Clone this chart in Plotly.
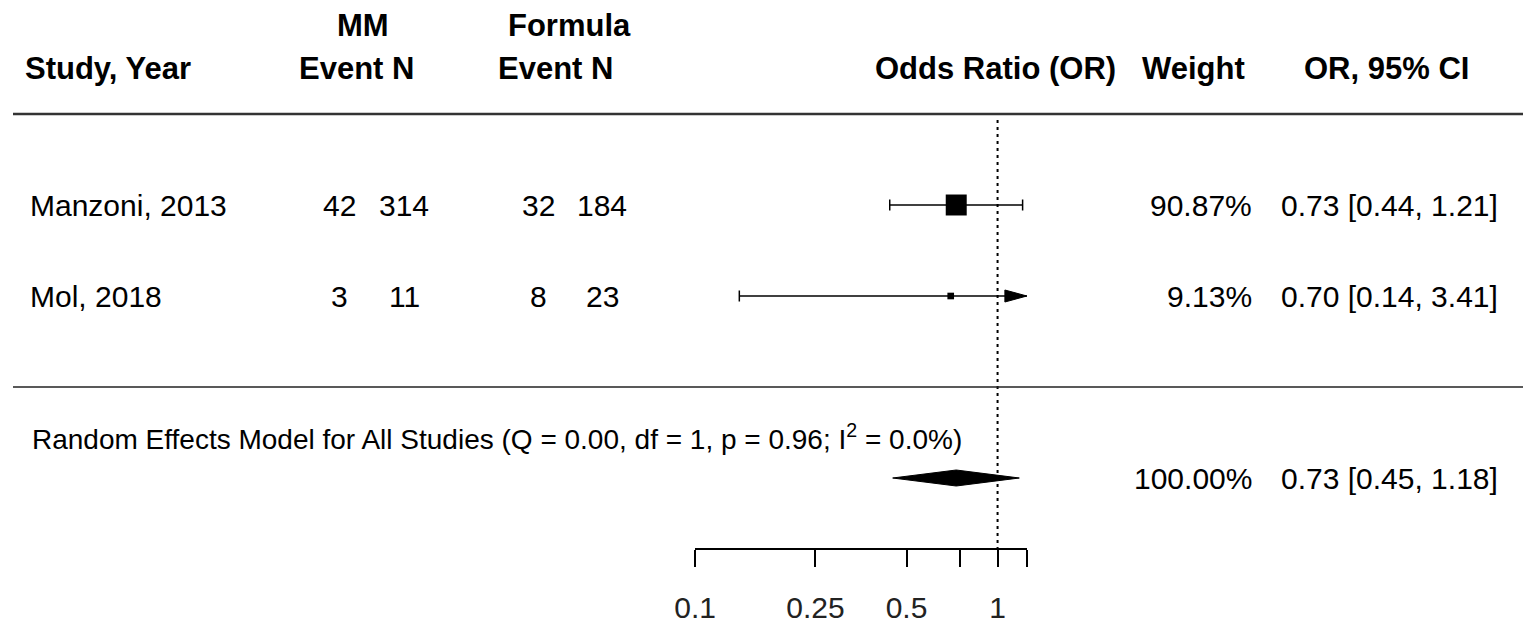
import math
import plotly.graph_objects as go

# ---------------- data ----------------
studies = ["Manzoni, 2013", "Mol, 2018"]
mm_events = [42, 3]
mm_n = [314, 11]
formula_events = [32, 8]
formula_n = [184, 23]
or_est = [0.73, 0.70]
ci_low = [0.44, 0.14]
ci_high = [1.21, 3.41]
weights = [90.87, 9.13]

pooled_label = "Random Effects Model for All Studies (Q = 0.00, df = 1, p = 0.96; I<sup>2</sup> = 0.0%)"
pooled_or = 0.73
pooled_low = 0.45
pooled_high = 1.18
pooled_weight = 100.00

tick_vals = [0.1, 0.25, 0.5, 1]
tick_text = ["0.1", "0.25", "0.5", "1"]
unlabeled_ticks = [0.75, 1.25]
axis_limits = [0.1, 1.25]
ref_value = 1

# ---------------- layout constants ----------------
W, H = 1536, 630
OFF = 8                 # page (body) offset of the figure in the browser window
FONT = "Liberation Sans, Arial, sans-serif"
PX_ROW = 91.0           # pixels per row
ROW0_PX = 387.0         # screen pixel y of row 0
AX_L, AX_R = 695, 1027  # screen pixel extent of x axis
AX_Y = 548              # screen pixel y of x axis line

def row_of(py):
    return (ROW0_PX - py) / PX_ROW

def px(x):
    return (x - OFF) / W

study_rows = [2, 1]
pooled_row = -1
x_min, x_max = axis_limits
px_per_dec = (AX_R - AX_L) / (math.log10(x_max) - math.log10(x_min))

fig = go.Figure()

# CI lines with caps / arrows
cap = 5.5 / PX_ROW
for r, lo, hi in zip(study_rows, ci_low, ci_high):
    hi_c = min(hi, x_max)
    lo_c = max(lo, x_min)
    fig.add_trace(go.Scatter(x=[lo_c, hi_c], y=[r, r], mode="lines",
                             line=dict(color="black", width=1.5), hoverinfo="skip"))
    if lo >= x_min:
        fig.add_trace(go.Scatter(x=[lo, lo], y=[r - cap, r + cap], mode="lines",
                                 line=dict(color="black", width=1.5), hoverinfo="skip"))
    if hi <= x_max:
        fig.add_trace(go.Scatter(x=[hi, hi], y=[r - cap, r + cap], mode="lines",
                                 line=dict(color="black", width=1.5), hoverinfo="skip"))
    else:
        base = 10 ** (math.log10(x_max) - 22 / px_per_dec)
        ah = 6 / PX_ROW
        fig.add_trace(go.Scatter(x=[base, x_max, base, base], y=[r - ah, r, r + ah, r - ah],
                                 mode="lines", fill="toself", fillcolor="black",
                                 line=dict(color="black", width=1), hoverinfo="skip"))

# squares sized by weight
fig.add_trace(go.Scatter(x=or_est, y=study_rows, mode="markers",
                         marker=dict(symbol="square", color="black", opacity=1,
                                     size=[2.2 * math.sqrt(w) for w in weights],
                                     line=dict(width=0)),
                         hoverinfo="skip"))

# pooled diamond
dh = 8 / PX_ROW
fig.add_trace(go.Scatter(x=[pooled_low, pooled_or, pooled_high, pooled_or, pooled_low],
                         y=[pooled_row, pooled_row + dh, pooled_row, pooled_row - dh, pooled_row],
                         mode="lines", fill="toself", fillcolor="black",
                         line=dict(color="black", width=1), hoverinfo="skip"))

# reference line
fig.add_trace(go.Scatter(x=[ref_value, ref_value], y=[row_of(120), row_of(AX_Y)], mode="lines",
                         line=dict(color="black", width=2, dash="3px,4px"), hoverinfo="skip"))

# horizontal rules
fig.add_shape(type="line", xref="paper", yref="y", x0=px(13), x1=px(1523), y0=3, y1=3,
              line=dict(color="#333333", width=2.5))
fig.add_shape(type="line", xref="paper", yref="y", x0=px(13), x1=px(1523), y0=0, y1=0,
              line=dict(color="#222222", width=1.5))

ann = []
def txt(x, row, s, anchor="left", size=30, bold=False):
    ann.append(dict(x=px(x), y=row, xref="paper", yref="y", text=(f"<b>{s}</b>" if bold else s),
                    showarrow=False, xanchor=anchor, yanchor="middle",
                    font=dict(family=FONT, size=size, color="black")))

# headers
hr1, hr2 = row_of(25), row_of(68)
txt(23, hr2, "Study, Year", "left", 31, True)
txt(363, hr1, "MM", "center", 31, True)
txt(356, hr2, "Event N", "center", 31, True)
txt(569, hr1, "Formula", "center", 31, True)
txt(555, hr2, "Event N", "center", 31, True)
txt(995, hr2, "Odds Ratio (OR)", "center", 31, True)
txt(1193, hr2, "Weight", "center", 31, True)
txt(1386, hr2, "OR, 95% CI", "center", 31, True)

# study rows
for r, s, me, mn, fe, fn, o, lo, hi, w in zip(study_rows, studies, mm_events, mm_n,
                                               formula_events, formula_n, or_est, ci_low, ci_high, weights):
    txt(28, r, s, "left")
    txt(339, r, str(me), "center")
    txt(404, r, str(mn), "center")
    txt(538, r, str(fe), "center")
    txt(602, r, str(fn), "center")
    txt(1254, r, f"{w:.2f}%", "right")
    txt(1500, r, f"{o:.2f} [{lo:.2f}, {hi:.2f}]", "right")

# pooled
txt(30, row_of(437), pooled_label, "left", 28)
txt(1254, pooled_row, f"{pooled_weight:.2f}%", "right")
txt(1500, pooled_row, f"{pooled_or:.2f} [{pooled_low:.2f}, {pooled_high:.2f}]", "right")

eps = 0.0004
fig.update_layout(
    width=W, height=H, margin=dict(l=0, r=0, t=0, b=0, pad=0, autoexpand=False),
    paper_bgcolor="white", plot_bgcolor="white", showlegend=False,
    annotations=ann,
    xaxis=dict(type="log", domain=[(AX_L - OFF) / W, (AX_R - OFF) / W], automargin=False,
               range=[math.log10(x_min) - eps, math.log10(x_max) + eps],
               tickmode="array", tickvals=tick_vals, ticktext=tick_text,
               ticks="outside", ticklen=17, tickwidth=1.5, tickcolor="black",
               minor=dict(tickmode="array", tickvals=unlabeled_ticks, ticks="outside",
                          ticklen=17, tickwidth=1.5, tickcolor="black", showgrid=False),
               showline=True, linecolor="black", linewidth=1.5,
               showgrid=False, zeroline=False, ticklabelstandoff=15,
               tickfont=dict(family=FONT, size=30, color="#222222"), fixedrange=True),
    yaxis=dict(domain=[(H - (AX_Y - OFF)) / H, 1], range=[row_of(AX_Y), row_of(OFF)],
               automargin=False, visible=False, fixedrange=True),
)

fig.write_html("out.html")
